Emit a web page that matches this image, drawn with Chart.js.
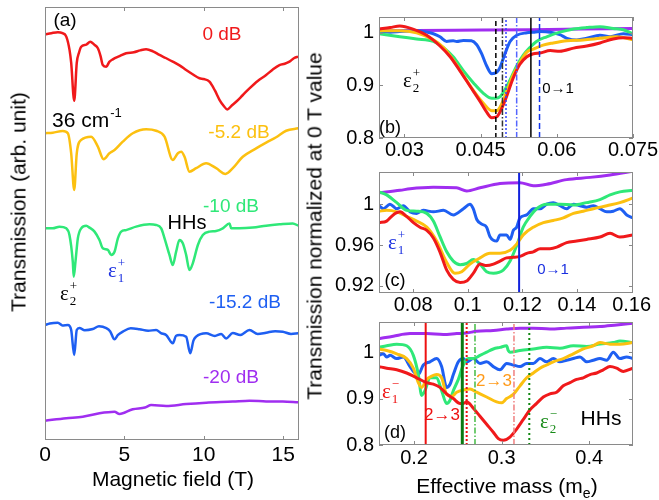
<!DOCTYPE html>
<html>
<head>
<meta charset="utf-8">
<script src="https://cdn.jsdelivr.net/npm/chart.js@4.4.1/dist/chart.umd.min.js"></script>
<style>
  body { margin: 0; background: #fff; }
  #wrap { position: relative; width: 659px; height: 500px; overflow: hidden; font-family: "Liberation Sans", Arial, sans-serif; }
  canvas { position: absolute; }
  .title { position: absolute; white-space: nowrap; font-size: 21px; color: #000; transform: translate(-50%, -50%); line-height: 1; }
  .rot { transform: translate(-50%, -50%) rotate(-90deg); }
  .sub { font-size: 14px; position: relative; top: 5px; }
</style>
</head>
<body>
<div id="wrap">
  <canvas id="panelA" width="310" height="500" style="left:0;top:0"></canvas>
  <canvas id="panelB" width="359" height="170" style="left:300px;top:0"></canvas>
  <canvas id="panelC" width="359" height="170" style="left:300px;top:155px"></canvas>
  <canvas id="panelD" width="359" height="195" style="left:300px;top:305px"></canvas>
  <div class="title rot" style="left:18px;top:202px">Transmission (arb. unit)</div>
  <div class="title" style="left:173px;top:478px">Magnetic field (T)</div>
  <div class="title rot" style="left:314px;top:226px">Transmission normalized at 0 T value</div>
  <div class="title" style="left:507px;top:485px">Effective mass (m<span class="sub">e</span>)</div>
</div>
<script>
const RED = '#f0191b', YELLOW = '#fcc010', GREEN = '#2fe878', BLUE = '#1e5ff2', PURPLE = '#a02ef0';

// (a) transmission vs magnetic field, offset traces [T, arb]
const fieldTicks = [0, 2.5, 5, 7.5, 10, 12.5, 15];
const fieldLabels = ['0', null, '5', null, '10', null, '15'];
const levelTicks = [1, 2, 3, 4, 5, 6, 7, 8, 9, 10, 11, 12, 13, 14, 15, 16, 17, 18, 19, 20, 21, 22];

const a0dB = [[0,21.24],[0.4,21.3],[0.81,21.35],[1.1,21.3],[1.34,21.12],[1.55,20.4],[1.65,19.74],[1.84,17.76],[2.0,19.74],[2.15,20.3],[2.28,20.59],[2.6,20.7],[2.85,20.85],[3.1,20.7],[3.33,20.51],[3.5,20.1],[3.64,19.63],[3.86,19.54],[4.05,19.8],[4.27,19.93],[4.7,20.1],[5.11,20.25],[5.6,20.3],[6.0,20.4],[6.37,20.46],[6.8,20.35],[7.21,20.16],[7.6,20.0],[8.05,19.81],[8.5,19.6],[8.89,19.37],[9.3,19.15],[9.73,18.94],[10.0,18.9],[10.36,18.76],[10.7,18.3],[11.0,17.8],[11.25,17.5],[11.48,17.31],[11.75,17.5],[12.04,17.71],[12.45,18.05],[12.88,18.41],[13.4,18.8],[13.93,19.11],[14.35,19.4],[14.77,19.63],[15.1,19.7],[15.4,19.81],[15.7,20.0],[15.95,20.07]];
const aMinus5dB = [[0,16.06],[0.49,16.09],[1.12,16.18],[1.44,16.06],[1.65,15.01],[1.84,13.09],[2.0,15.01],[2.28,15.71],[2.91,15.88],[3.33,15.36],[3.69,14.7],[4.06,15.01],[4.38,15.18],[4.9,15.62],[5.53,16.06],[6.37,16.27],[7.0,16.19],[7.53,15.88],[8.05,14.66],[8.37,15.01],[8.58,15.09],[8.79,14.83],[9.1,14.05],[9.52,14.23],[10.15,14.49],[10.78,14.23],[11.37,13.93],[11.83,14.23],[12.46,14.83],[13.3,15.27],[13.93,15.57],[14.56,15.85],[15.19,16.19],[15.95,16.32]];
const aMinus10dB = [[0,11.08],[0.49,11.08],[0.91,11.17],[1.34,11.08],[1.54,10.73],[1.75,9.34],[1.81,8.55],[1.92,9.34],[2.07,10.56],[2.28,11.08],[2.6,11.22],[2.8,11.12],[3.12,10.91],[3.43,10.47],[3.64,10.04],[3.96,9.95],[4.17,9.69],[4.38,9.86],[4.59,10.56],[4.8,10.91],[5.11,10.99],[5.74,11.17],[6.58,11.29],[7.0,11.26],[7.32,11.08],[7.53,10.56],[7.84,9.69],[8.05,9.16],[8.26,9.86],[8.47,10.47],[8.68,10.3],[8.89,9.69],[9.1,8.9],[9.31,9.25],[9.63,10.21],[9.94,10.73],[10.36,10.91],[10.78,10.94],[11.2,11.08],[11.62,11.34],[11.73,11.08],[12.25,11.08],[13.09,11.12],[13.93,11.22],[14.77,11.29],[15.61,11.34],[15.95,11.22]];
const aMinus15dB = [[0,6.02],[0.3,6.1],[0.81,6.14],[1.1,6.0],[1.44,6.02],[1.65,5.76],[1.84,4.45],[2.0,5.76],[2.17,5.86],[2.5,5.75],[3.01,5.81],[3.4,5.95],[3.86,5.86],[4.1,5.7],[4.38,5.27],[4.6,5.5],[4.9,5.67],[5.4,5.85],[5.95,5.8],[6.5,5.72],[7.0,5.76],[7.3,5.6],[7.63,5.5],[8.05,5.06],[8.25,5.45],[8.47,5.5],[8.89,5.41],[9.15,4.54],[9.35,5.2],[9.52,5.41],[10.15,5.59],[10.7,5.45],[11.1,5.55],[11.41,5.32],[11.83,5.6],[12.3,5.5],[12.88,5.76],[13.4,5.55],[13.93,5.62],[14.5,5.7],[14.98,5.67],[15.5,5.55],[15.95,5.59]];
const aMinus20dB = [[0,1.01],[1.34,1.14],[2.38,1.22],[3.43,1.4],[4.38,1.48],[4.69,1.36],[5.53,1.61],[6.3,1.7],[6.69,1.83],[7.63,1.78],[8.89,1.88],[10.15,1.95],[11.83,2.01],[12.88,2.06],[13.93,2.02],[14.98,2.01],[15.95,1.97]];

// (b) 36 cm-1, normalized transmission vs effective mass
const bMassTicks = [0.03, 0.0375, 0.045, 0.0525, 0.06, 0.0675, 0.075];
const bMassLabels = ['0.03', null, '0.045', null, '0.06', null, '0.075'];
const bNormTicks = [0.8, 0.85, 0.9, 0.95, 1, 1.03];
const bNormLabels = ['0.8', null, '0.9', null, '1', null];
const b0dB = [[0.025,1.007],[0.0272,1.0099],[0.0291,1.0129],[0.0317,1.007],[0.0344,0.9953],[0.037,0.9749],[0.039,0.9544],[0.0409,0.9281],[0.0429,0.8988],[0.0449,0.8696],[0.0462,0.8491],[0.0472,0.8386],[0.0482,0.8404],[0.0491,0.855],[0.0501,0.8784],[0.0514,0.9135],[0.0527,0.9398],[0.0541,0.9544],[0.0554,0.9602],[0.0567,0.9614],[0.0587,0.9661],[0.0606,0.9649],[0.0633,0.9708],[0.0659,0.9749],[0.0685,0.9807],[0.0711,0.9883],[0.0731,0.9906],[0.075,0.9895]];
const bMinus5dB = [[0.025,1.0041],[0.0291,1.0041],[0.0324,1.0],[0.0357,0.9865],[0.0377,0.9719],[0.0396,0.9485],[0.0416,0.9193],[0.0436,0.8901],[0.0455,0.8667],[0.0472,0.852],[0.0482,0.852],[0.0491,0.8637],[0.0501,0.8871],[0.0514,0.9193],[0.0527,0.9427],[0.0541,0.9632],[0.0554,0.969],[0.0573,0.9766],[0.0593,0.9807],[0.062,0.9848],[0.0652,0.9865],[0.0685,0.9895],[0.0718,0.9924],[0.075,0.9865]];
const bMinus10dB = [[0.025,0.9982],[0.0291,0.9924],[0.0324,0.9883],[0.0357,0.9836],[0.0377,0.9719],[0.0396,0.9544],[0.0416,0.9281],[0.0436,0.9047],[0.0455,0.8854],[0.0472,0.8754],[0.0485,0.8766],[0.0495,0.8871],[0.0508,0.9105],[0.0521,0.9368],[0.0534,0.9573],[0.0547,0.9719],[0.056,0.9836],[0.058,0.9924],[0.0606,1.0012],[0.0633,1.007],[0.0659,1.0099],[0.0685,1.0117],[0.0711,1.0082],[0.0731,1.0058],[0.075,0.9982]];
const bMinus15dB = [[0.025,1.0023],[0.0272,1.0012],[0.0291,1.0023],[0.0311,1.0035],[0.0324,1.0041],[0.0344,1.0012],[0.0357,0.9982],[0.037,0.9924],[0.0383,0.9836],[0.0396,0.9848],[0.0403,0.9836],[0.0416,0.9854],[0.0432,0.9848],[0.0442,0.9778],[0.0452,0.9602],[0.0462,0.9368],[0.0472,0.9222],[0.0482,0.9251],[0.0488,0.9339],[0.0498,0.9602],[0.0508,0.9836],[0.0521,0.9953],[0.0541,1.0],[0.0554,1.0012],[0.0567,1.0023],[0.0587,1.0012],[0.0606,0.9965],[0.062,0.9895],[0.0639,0.9865],[0.0659,0.9895],[0.0685,0.9953],[0.0705,0.9924],[0.0731,0.9982],[0.075,0.9965]];
const bMinus20dB = [[0.025,1.004],[0.04,1.005],[0.055,1.006],[0.065,1.007],[0.075,1.008]];
const bMarkers = [0.048, 0.0493, 0.05, 0.0521, 0.0549, 0.0566];

// (c)
const cMassTicks = [0.08, 0.09, 0.1, 0.11, 0.12, 0.13, 0.14, 0.15, 0.16];
const cMassLabels = ['0.08', null, '0.1', null, '0.12', null, '0.14', null, '0.16'];
const cNormTicks = [0.92, 0.94, 0.96, 0.98, 1, 1.02, 1.032];
const cNormLabels = ['0.92', null, '0.96', null, '1', null, null];
const c0dB = [[0.0675,0.9821],[0.0703,0.9836],[0.0727,0.9897],[0.0752,0.9927],[0.0776,0.9882],[0.0801,0.9821],[0.0825,0.9776],[0.085,0.9745],[0.0874,0.967],[0.0898,0.9533],[0.0923,0.9352],[0.0947,0.9261],[0.0972,0.923],[0.0996,0.9245],[0.102,0.9321],[0.1045,0.9412],[0.1069,0.9397],[0.1094,0.9412],[0.1118,0.9442],[0.1142,0.9473],[0.1167,0.9479],[0.1191,0.9488],[0.1216,0.9518],[0.124,0.9533],[0.1265,0.9564],[0.1301,0.9564],[0.1326,0.9579],[0.1362,0.9624],[0.1399,0.9639],[0.1435,0.9655],[0.1484,0.9679],[0.1521,0.9715],[0.1557,0.9679],[0.1605,0.97]];
const cMinus5dB = [[0.0675,0.9933],[0.0703,0.9942],[0.074,0.9927],[0.0776,0.9882],[0.0813,0.9836],[0.085,0.9776],[0.0886,0.9639],[0.0923,0.9427],[0.0953,0.9321],[0.0978,0.9336],[0.1008,0.9412],[0.1045,0.9473],[0.1081,0.9518],[0.1118,0.9518],[0.1155,0.9548],[0.1179,0.9609],[0.1203,0.97],[0.124,0.9776],[0.1277,0.9821],[0.1313,0.9842],[0.135,0.9867],[0.1387,0.9912],[0.1423,0.9933],[0.146,0.9958],[0.1509,0.9988],[0.1557,1.0018],[0.1605,1.0064]];
const cMinus10dB = [[0.0675,1.0124],[0.0703,1.0094],[0.074,1.0018],[0.0776,0.9942],[0.0813,0.9933],[0.085,0.9912],[0.0874,0.9836],[0.0898,0.9685],[0.0923,0.9533],[0.0947,0.9442],[0.0972,0.9406],[0.0996,0.9418],[0.102,0.9458],[0.1045,0.9412],[0.1069,0.9336],[0.1094,0.9321],[0.113,0.9352],[0.1155,0.9442],[0.1179,0.9594],[0.1203,0.9776],[0.1228,0.9882],[0.1252,0.9958],[0.1289,1.0003],[0.1338,1.0003],[0.1387,0.9994],[0.1435,1.0018],[0.1484,1.0048],[0.1521,1.0094],[0.1557,1.0124],[0.1605,1.0139]];
const cMinus15dB = [[0.0675,0.9988],[0.0691,0.9958],[0.0715,1.0003],[0.074,0.9958],[0.0764,0.9988],[0.0789,0.9927],[0.0813,0.9912],[0.0837,0.9942],[0.0874,0.9927],[0.0911,0.9942],[0.0947,0.9897],[0.0984,0.9958],[0.1008,1.0003],[0.102,0.9958],[0.1033,0.9852],[0.1051,0.9806],[0.1069,0.9776],[0.1081,0.9685],[0.1106,0.9639],[0.1118,0.97],[0.1142,0.97],[0.1155,0.9655],[0.1167,0.9745],[0.1179,0.9776],[0.1191,0.9867],[0.1216,0.9897],[0.124,0.9958],[0.1265,0.9958],[0.1289,1.0003],[0.1313,1.0018],[0.1338,0.9988],[0.1362,0.9958],[0.1387,1.0003],[0.1411,0.9988],[0.1435,0.9973],[0.146,0.9988],[0.1484,0.9958],[0.1509,0.9927],[0.1533,0.9933],[0.1557,0.9958],[0.1582,0.9897],[0.1605,0.9867]];
const cMinus20dB = [[0.0675,1.0115],[0.0752,1.0139],[0.0789,1.0155],[0.0874,1.017],[0.0959,1.0164],[0.0996,1.0133],[0.1045,1.0164],[0.1118,1.0206],[0.1191,1.0215],[0.124,1.0185],[0.1289,1.02],[0.1362,1.0245],[0.1448,1.0267],[0.1521,1.0291],[0.1605,1.0327]];
const cMarkers = [0.1188];

// (d) heavy holes
const dMassTicks = [0.2, 0.25, 0.3, 0.35, 0.4, 0.45];
const dMassLabels = ['0.2', null, '0.3', null, '0.4', null];
const dNormTicks = [0.8, 0.85, 0.9, 0.95, 1, 1.05, 1.065];
const dNormLabels = ['0.8', null, '0.9', null, '1', null, null];
const d0dB = [[0.16,0.9689],[0.1688,0.9655],[0.1802,0.962],[0.1916,0.9551],[0.203,0.9448],[0.2144,0.9344],[0.222,0.931],[0.2296,0.9241],[0.2372,0.9103],[0.2449,0.9],[0.2525,0.8896],[0.2563,0.8896],[0.2601,0.893],[0.2677,0.8792],[0.2753,0.862],[0.2829,0.8447],[0.2905,0.8275],[0.2962,0.8137],[0.3019,0.8102],[0.3095,0.8171],[0.3172,0.8344],[0.3248,0.8551],[0.3324,0.8758],[0.34,0.8896],[0.3476,0.9034],[0.3552,0.9103],[0.3628,0.9137],[0.3704,0.9275],[0.378,0.9344],[0.3856,0.9413],[0.3933,0.9448],[0.4009,0.9517],[0.4085,0.9551],[0.4161,0.962],[0.4237,0.9689],[0.4313,0.9655],[0.4389,0.9586],[0.45,0.9655]];
const dMinus5dB = [[0.16,1.0069],[0.1688,1.0035],[0.1802,0.9965],[0.1916,0.9862],[0.1992,0.9655],[0.2049,0.9344],[0.2087,0.9241],[0.2144,0.9413],[0.2201,0.9482],[0.2258,0.9517],[0.2315,0.9448],[0.2372,0.9089],[0.243,0.9048],[0.2487,0.9137],[0.2563,0.9186],[0.2639,0.9206],[0.2715,0.9137],[0.2829,0.9034],[0.2943,0.893],[0.3,0.891],[0.3057,0.9],[0.3133,0.9089],[0.321,0.9275],[0.3286,0.9448],[0.3362,0.9551],[0.3438,0.9655],[0.3514,0.9724],[0.359,0.9793],[0.3704,0.9862],[0.3818,0.9965],[0.3933,1.0069],[0.4047,1.0138],[0.4123,1.0207],[0.4237,1.0173],[0.4351,1.0173],[0.45,1.0207]];
const dMinus10dB = [[0.16,1.0104],[0.1688,1.0138],[0.1802,1.0173],[0.1916,1.0138],[0.1992,0.9931],[0.2049,0.9517],[0.2087,0.9068],[0.2125,0.9172],[0.2182,0.9448],[0.2258,0.9448],[0.2315,0.9172],[0.2372,0.8896],[0.2411,0.8965],[0.2449,0.9172],[0.2506,0.9413],[0.2563,0.9724],[0.262,0.9862],[0.2677,0.9862],[0.2753,0.9931],[0.2829,1.0],[0.2905,1.0069],[0.2981,1.0104],[0.3057,1.0138],[0.3076,1.0035],[0.3095,1.0],[0.321,1.0035],[0.3362,1.0069],[0.3514,1.0104],[0.3666,1.0083],[0.3818,1.0138],[0.3971,1.0124],[0.4123,1.0173],[0.4275,1.0207],[0.4351,1.0242],[0.45,1.0207]];
const dMinus15dB = [[0.16,0.9931],[0.1649,0.9965],[0.1688,0.9896],[0.1726,0.9931],[0.1802,0.9862],[0.1878,0.9896],[0.1954,0.9689],[0.1992,0.9586],[0.2049,0.9517],[0.2106,0.9724],[0.2182,0.9793],[0.2258,0.9862],[0.2315,0.9689],[0.2372,0.9241],[0.2411,0.931],[0.2449,0.9517],[0.2506,0.9793],[0.2563,0.9862],[0.2601,0.9793],[0.2677,0.9862],[0.2753,0.9758],[0.2829,0.9793],[0.2905,0.9689],[0.2981,0.962],[0.3057,0.9758],[0.3133,0.9724],[0.321,0.9689],[0.3286,0.9758],[0.3362,0.9758],[0.3438,0.9862],[0.3514,0.9793],[0.359,0.9862],[0.3666,0.9793],[0.3742,0.9827],[0.3818,0.9862],[0.3895,0.9896],[0.3971,0.9793],[0.4047,0.9827],[0.4123,0.9862],[0.4199,0.9827],[0.4275,1.0],[0.4351,0.9862],[0.4427,0.9896],[0.45,0.9862]];
const dMinus20dB = [[0.16,1.029],[0.1764,1.0345],[0.1954,1.04],[0.2144,1.04],[0.2334,1.038],[0.2487,1.04],[0.2601,1.0414],[0.2715,1.0449],[0.2905,1.0469],[0.3057,1.0497],[0.321,1.0518],[0.3362,1.0518],[0.3552,1.0497],[0.3742,1.0518],[0.3933,1.0538],[0.4123,1.0552],[0.4313,1.0587],[0.45,1.0621]];
const dMarkers = [0.2133, 0.2551, 0.2601, 0.2696, 0.3141, 0.3316];

// line styles for the marker lines, same order as the marker arrays
const bMarkerStyles = [
  { color: '#000', dash: [5, 3] },
  { color: '#333', dash: [6, 2, 1.5, 2] },
  { color: '#3344ff', dash: [2, 2] },
  { color: '#5566ff', dash: [6, 2, 1.5, 2] },
  { color: '#000', dash: [] },
  { color: '#1133ee', dash: [6, 3] }
];
const cMarkerStyles = [{ color: '#1122dd', dash: [], width: 2 }];
const dMarkerStyles = [
  { color: '#ee1111', dash: [], width: 2 },
  { color: '#0b7a12', dash: [], width: 3 },
  { color: '#ee1111', dash: [2, 2], width: 2 },
  { color: '#44bb44', dash: [6, 2, 1.5, 2] },
  { color: '#f08080', dash: [6, 2, 1.5, 2] },
  { color: '#118811', dash: [2, 3], width: 2 }
];

Chart.defaults.font.family = '"Liberation Sans", Arial, sans-serif';
Chart.defaults.color = '#000';

function curve(points, color, width) {
  return {
    data: points.map(p => ({ x: p[0], y: p[1] })),
    borderColor: color,
    borderWidth: width,
    pointRadius: 0,
    cubicInterpolationMode: 'monotone',
    fill: false
  };
}

function markerLines(xs, styles, yMin, yMax) {
  return xs.map((x, i) => ({
    data: [{ x: x, y: yMin }, { x: x, y: yMax }],
    borderColor: styles[i].color,
    borderWidth: styles[i].width || 1.5,
    borderDash: styles[i].dash,
    pointRadius: 0,
    tension: 0
  }));
}

// annotation text, page coordinates
const notesById = {
  panelA: [
    { t: '(a)', x: 65, y: 21, s: 19 },
    { t: '0 dB', x: 222, y: 35, s: 19, c: RED },
    { t: '36 cm', sup: '-1', x: 52, y: 127, s: 21 },
    { t: '-5.2 dB', x: 239, y: 133, s: 19, c: YELLOW },
    { t: '-10 dB', x: 231, y: 207, s: 19, c: GREEN },
    { t: 'HHs', x: 187, y: 223, s: 20 },
    { t: '-15.2 dB', x: 245, y: 303, s: 19, c: BLUE },
    { t: '-20 dB', x: 231, y: 378, s: 19, c: PURPLE },
    { eps: ['2', '+'], x: 60, y: 300, s: 21 },
    { eps: ['1', '+'], x: 108, y: 277, s: 21, c: '#1a2fe0' }
  ],
  panelB: [
    { t: '(b)', x: 390, y: 128, s: 18 },
    { t: '0\u21921', x: 558, y: 89, s: 15 },
    { eps: ['2', '+'], x: 403, y: 87, s: 21 }
  ],
  panelC: [
    { t: '(c)', x: 395, y: 281, s: 18 },
    { t: '0\u21921', x: 553, y: 270, s: 15, c: '#1a2fe0' },
    { eps: ['1', '+'], x: 388, y: 249, s: 21, c: '#1a2fe0' }
  ],
  panelD: [
    { t: '(d)', x: 395, y: 433, s: 18 },
    { t: '2\u21923', x: 442, y: 415, s: 17, c: '#ee1111' },
    { t: '2\u21923', x: 494, y: 381, s: 17, c: '#ff9a1a' },
    { t: 'HHs', x: 601, y: 419, s: 21 },
    { eps: ['1', '\u2212'], x: 382, y: 398, s: 21, c: '#ee1111' },
    { eps: ['2', '\u2212'], x: 540, y: 428, s: 21, c: '#178a17' }
  ]
};

const notesPlugin = {
  id: 'notes',
  afterDraw(chart) {
    const list = notesById[chart.canvas.id] || [];
    const ox = chart.canvas.offsetLeft, oy = chart.canvas.offsetTop;
    const ctx = chart.ctx;
    ctx.save();
    list.forEach(n => {
      const x = n.x - ox, y = n.y - oy;
      ctx.fillStyle = n.c || '#000';
      if (n.eps) {
        ctx.font = n.s + 'px "Liberation Serif", serif';
        ctx.textAlign = 'left';
        ctx.textBaseline = 'alphabetic';
        ctx.fillText('\u03b5', x, y);
        const w = ctx.measureText('\u03b5').width;
        ctx.font = Math.round(n.s * 0.62) + 'px "Liberation Serif", serif';
        ctx.fillText(n.eps[0], x + w + 1, y + 5);
        ctx.fillText(n.eps[1], x + w + 1, y - 10);
      } else if (n.sup) {
        ctx.font = n.s + 'px "Liberation Sans", Arial';
        ctx.textAlign = 'left';
        ctx.textBaseline = 'alphabetic';
        ctx.fillText(n.t, x, y);
        const w = ctx.measureText(n.t).width;
        ctx.font = Math.round(n.s * 0.62) + 'px "Liberation Sans", Arial';
        ctx.fillText(n.sup, x + w + 1, y - 10);
      } else {
        ctx.font = n.s + 'px "Liberation Sans", Arial';
        ctx.textAlign = 'center';
        ctx.textBaseline = 'middle';
        ctx.fillText(n.t, x, y);
      }
    });
    ctx.restore();
  }
};

// box frame with inward ticks on all four sides
const boxTicks = {
  id: 'boxTicks',
  afterDraw(chart) {
    const { ctx, chartArea: a, scales: { x, y } } = chart;
    ctx.save();
    ctx.strokeStyle = '#8a8a8a';
    ctx.lineWidth = 1;
    ctx.beginPath();
    x.ticks.forEach(t => {
      const px = Math.round(x.getPixelForValue(t.value)) + 0.5;
      ctx.moveTo(px, a.bottom); ctx.lineTo(px, a.bottom - 4);
      ctx.moveTo(px, a.top); ctx.lineTo(px, a.top + 4);
    });
    y.ticks.forEach(t => {
      const py = Math.round(y.getPixelForValue(t.value)) + 0.5;
      ctx.moveTo(a.left, py); ctx.lineTo(a.left + 4, py);
      ctx.moveTo(a.right, py); ctx.lineTo(a.right - 4, py);
    });
    ctx.stroke();
    ctx.strokeRect(Math.round(a.left) + 0.5, Math.round(a.top) + 0.5, Math.round(a.width) - 1, Math.round(a.height) - 1);
    ctx.restore();
  }
};

function panel(id, p) {
  return new Chart(document.getElementById(id), {
    type: 'line',
    data: { datasets: p.datasets },
    options: {
      responsive: false,
      animation: false,
      devicePixelRatio: 1,
      layout: { padding: p.pad },
      plugins: { legend: { display: false }, tooltip: { enabled: false } },
      scales: {
        x: {
          type: 'linear', min: p.x[0], max: p.x[1],
          grid: { display: false, drawTicks: false },
          border: { display: false },
          afterBuildTicks: s => { s.ticks = p.xTicks.map(v => ({ value: v })); },
          afterFit: s => { s.height = p.bottomH; },
          ticks: {
            autoSkip: false, maxRotation: 0, padding: p.xPad,
            font: { size: p.xSize }, color: '#000',
            callback: (v, i) => p.xLabels[i]
          }
        },
        y: {
          type: 'linear', min: p.y[0], max: p.y[1],
          grid: { display: false, drawTicks: false },
          border: { display: false },
          afterBuildTicks: s => { s.ticks = p.yTicks.map(v => ({ value: v })); },
          afterFit: s => { s.width = p.leftW; },
          ticks: {
            display: !!p.yLabels, padding: 5,
            font: { size: 20 }, color: '#000',
            callback: (v, i) => p.yLabels ? p.yLabels[i] : null
          }
        }
      }
    },
    plugins: [boxTicks, notesPlugin]
  });
}

panel('panelA', {
  x: [0, 16], y: [0, 22.67],
  xTicks: fieldTicks, xLabels: fieldLabels, yTicks: levelTicks,
  pad: { top: 7, right: 11, left: 0, bottom: 0 }, leftW: 45, bottomH: 60, xPad: 3, xSize: 21,
  datasets: [
    curve(a0dB, RED, 2.5),
    curve(aMinus5dB, YELLOW, 2.5),
    curve(aMinus10dB, GREEN, 2.5),
    curve(aMinus15dB, BLUE, 2.5),
    curve(aMinus20dB, PURPLE, 2.5)
  ]
});

panel('panelB', {
  x: [0.025, 0.075], y: [0.8, 1.03],
  xTicks: bMassTicks, xLabels: bMassLabels, yTicks: bNormTicks, yLabels: bNormLabels,
  pad: { top: 7, right: 26, left: 0, bottom: 0 }, leftW: 79, bottomH: 32, xPad: 0, xSize: 20,
  datasets: markerLines(bMarkers, bMarkerStyles, 0.8, 1.03).concat([
    curve(b0dB, RED, 3),
    curve(bMinus5dB, YELLOW, 3),
    curve(bMinus10dB, GREEN, 3),
    curve(bMinus15dB, BLUE, 3),
    curve(bMinus20dB, PURPLE, 3)
  ])
});

panel('panelC', {
  x: [0.0675, 0.1605], y: [0.9127, 1.032],
  xTicks: cMassTicks, xLabels: cMassLabels, yTicks: cNormTicks, yLabels: cNormLabels,
  pad: { top: 6.7, right: 26, left: 0, bottom: 0 }, leftW: 79, bottomH: 32, xPad: 0, xSize: 20,
  datasets: markerLines(cMarkers, cMarkerStyles, 0.9127, 1.032).concat([
    curve(c0dB, RED, 3),
    curve(cMinus5dB, YELLOW, 3),
    curve(cMinus10dB, GREEN, 3),
    curve(cMinus15dB, BLUE, 3),
    curve(cMinus20dB, PURPLE, 3)
  ])
});

panel('panelD', {
  x: [0.16, 0.45], y: [0.8, 1.065],
  xTicks: dMassTicks, xLabels: dMassLabels, yTicks: dNormTicks, yLabels: dNormLabels,
  pad: { top: 11.7, right: 26, left: 0, bottom: 0 }, leftW: 79, bottomH: 55, xPad: 1, xSize: 20,
  datasets: markerLines(dMarkers, dMarkerStyles, 0.8, 1.065).concat([
    curve(d0dB, RED, 3),
    curve(dMinus5dB, YELLOW, 3),
    curve(dMinus10dB, GREEN, 3),
    curve(dMinus15dB, BLUE, 3),
    curve(dMinus20dB, PURPLE, 3)
  ])
});
</script>
</body>
</html>
